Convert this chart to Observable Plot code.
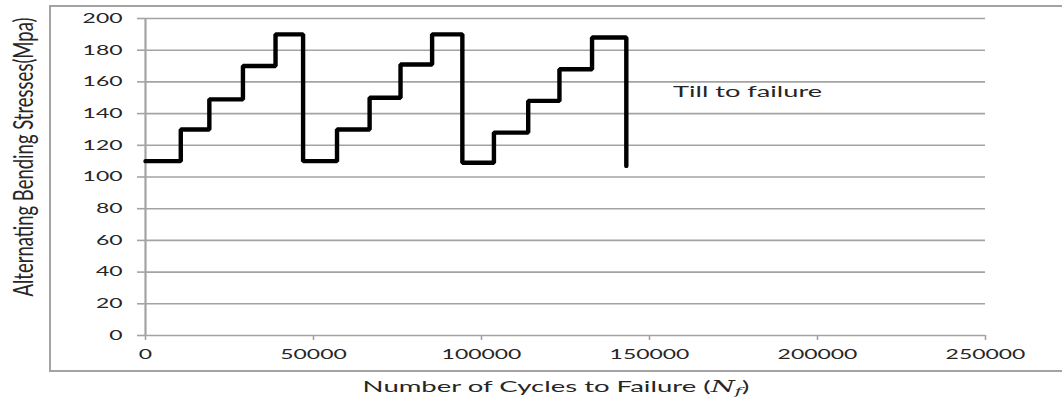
<!DOCTYPE html>
<html><head><meta charset="utf-8">
<script src="https://cdn.jsdelivr.net/npm/d3@7"></script>
<script src="https://cdn.jsdelivr.net/npm/@observablehq/plot@0.6"></script>
<style>
html,body{margin:0;padding:0;background:#fff;}
#wrap{position:relative;width:1062px;height:402px;overflow:hidden;}
#frame{position:absolute;left:49px;top:5px;width:1100px;height:367px;border:2px solid #a3a3a3;border-right:none;box-sizing:border-box;}
#chart{position:absolute;left:0;top:0;}
</style></head><body>
<div id="wrap"><div id="frame"></div><div id="chart"></div></div>
<script>
// Data
const cycles = [0, 10500, 19000, 29000, 38700, 46900, 57000, 66700, 75900, 85300, 94300, 103700, 113900, 123200, 132900, 143100];
const stress = [110, 130, 149, 170, 190, 110, 130, 150, 171, 190, 109, 128, 148, 168, 188, 107];
const yTicks = [0, 20, 40, 60, 80, 100, 120, 140, 160, 180, 200];
const xTicks = [0, 50000, 100000, 150000, 200000, 250000];
const yTitle = "Alternating Bending Stresses(Mpa)";
const xTitle = "Number of Cycles to Failure (";
const xTitleSymbol = "N";
const xTitleSub = "f";
const xTitleEnd = ")";
const noteText = "Till to failure";
const noteCycles = 157000;
const noteStress = 154;

const data = cycles.map((c, i) => ({cycles: c, stress: stress[i]}));
const gray = "#a3a3a3";
const ink = "#262626";
const stretch = 1.7;

const plot = Plot.plot({
  width: 1062, height: 402,
  marginLeft: 145, marginRight: 77, marginTop: 18, marginBottom: 67,
  style: {fontFamily: "Lato", background: "transparent", color: ink},
  x: {domain: [0, 250000]},
  y: {domain: [0, 200]},
  marks: [
    Plot.gridY(yTicks, {stroke: gray, strokeOpacity: 1, strokeWidth: 1.6}),
    Plot.axisY({ticks: yTicks, tickSize: 8, tickPadding: 15, stroke: gray, strokeOpacity: 1, strokeWidth: 1.6, fontSize: 13.5, fill: ink, label: null}),
    Plot.axisX({ticks: xTicks, tickSize: 5, tickPadding: 9, stroke: gray, strokeOpacity: 1, strokeWidth: 1.6, fontSize: 13.5, fill: ink, label: null, tickFormat: d => String(d)}),
    Plot.ruleX([0], {stroke: gray, strokeWidth: 2.2}),
    Plot.line(data, {x: "cycles", y: "stress", curve: "step-after", stroke: "black", strokeWidth: 4.4, strokeLinejoin: "miter"}),
    Plot.text([noteText], {x: () => noteCycles, y: () => noteStress, text: d => d, textAnchor: "start", lineAnchor: "middle", fontSize: 16, fill: ink}),
    Plot.text([yTitle], {frameAnchor: "left", dx: -121, dy: -20, rotate: -90, text: d => d, textAnchor: "middle", lineAnchor: "middle", fontSize: 18.5, fill: ink})
  ]
});

// Horizontal stretch of all text as in the reference picture
plot.querySelectorAll("text").forEach(t => {
  const tr = t.getAttribute("transform") || "";
  if (/rotate\(-90\)/.test(tr)) t.setAttribute("transform", tr + ` scale(1,1.5)`);
  else t.setAttribute("transform", tr + ` scale(${stretch},1)`);
});

// x axis title with italic symbol
const svg = d3.select(plot);
const xt = svg.append("text")
  .attr("transform", `translate(556,392) scale(${stretch},1)`)
  .attr("text-anchor", "middle")
  .attr("font-family", "Lato").attr("font-size", 16.2).attr("fill", ink);
xt.append("tspan").text(xTitle);
xt.append("tspan").attr("font-family", "DejaVu Serif").attr("font-style", "italic").text(xTitleSymbol);
xt.append("tspan").attr("font-family", "DejaVu Serif").attr("font-style", "italic").attr("font-size", 11.5).attr("dy", 3).text(xTitleSub);
xt.append("tspan").attr("dy", -3).text(xTitleEnd);

document.getElementById("chart").appendChild(plot);
</script>
</body></html>
